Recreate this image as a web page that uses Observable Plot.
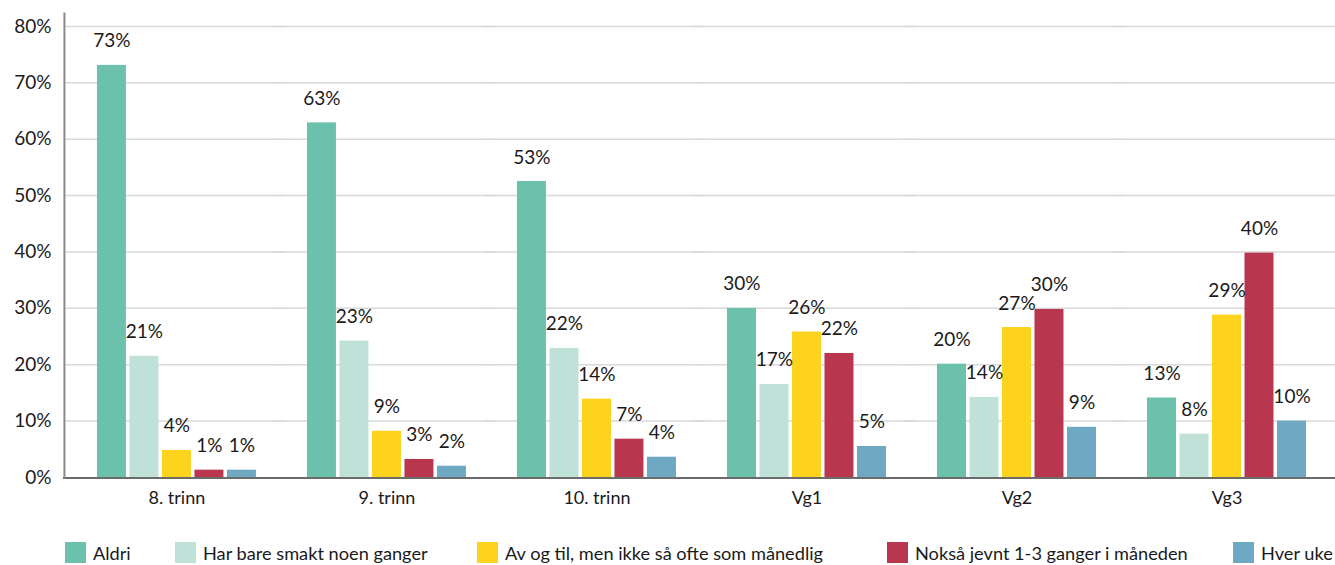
<!DOCTYPE html>
<html><head><meta charset="utf-8">
<script src="https://cdn.jsdelivr.net/npm/d3@7"></script>
<script src="https://cdn.jsdelivr.net/npm/@observablehq/plot@0.6"></script>
<style>
body{margin:0;background:#fff;font-family:Lato,sans-serif;color:#1a1a1a;}
#wrap{position:relative;width:1335px;height:565px;overflow:hidden;}
#legend{position:absolute;left:0;top:542px;width:1335px;height:21px;font-size:18.2px;}
.item{position:absolute;top:0;height:21px;display:flex;align-items:center;white-space:nowrap;}
.item:nth-child(1){left:65px;}
.item:nth-child(2){left:175px;}
.item:nth-child(3){left:477px;}
.item:nth-child(4){left:887px;}
.item:nth-child(5){left:1233px;}
.sw{width:21px;height:21px;margin-right:7px;}
</style></head><body>
<div id="wrap"><div id="chart"></div><div id="legend"></div></div>
<script>
const groups = ["8. trinn", "9. trinn", "10. trinn", "Vg1", "Vg2", "Vg3"];
const series = ["Aldri", "Har bare smakt noen ganger", "Av og til, men ikke så ofte som månedlig", "Nokså jevnt 1-3 ganger i måneden", "Hver uke"];
const colors = ["#6cc1ad", "#c0e1d8", "#fdd31e", "#b8364e", "#6ea8c2"];

// bar heights (%) per series, one per group
const aldri    = [73.1, 62.9, 52.5, 30.0, 20.1, 14.1];
const harBare  = [21.5, 24.2, 22.9, 16.5, 14.2, 7.7];
const avOgTil  = [4.8, 8.2, 13.9, 25.8, 26.6, 28.8];
const noksa    = [1.3, 3.2, 6.8, 22.0, 29.8, 39.8];
const hverUke  = [1.3, 2.0, 3.6, 5.5, 8.9, 10.0];

// printed labels (%) per series
const aldriLbl   = [73, 63, 53, 30, 20, 13];
const harBareLbl = [21, 23, 22, 17, 14, 8];
const avOgTilLbl = [4, 9, 14, 26, 27, 29];
const noksaLbl   = [1, 3, 7, 22, 30, 40];
const hverUkeLbl = [1, 2, 4, 5, 9, 10];

const yTicks = [0, 10, 20, 30, 40, 50, 60, 70, 80];

const values = [aldri, harBare, avOgTil, noksa, hverUke];
const labels = [aldriLbl, harBareLbl, avOgTilLbl, noksaLbl, hverUkeLbl];
const data = [];
groups.forEach((g, i) => series.forEach((s, j) => data.push({group: g, series: s, value: values[j][i], label: labels[j][i]})));

const chart = Plot.plot({
  width: 1335, height: 530,
  marginLeft: 64, marginRight: 0, marginTop: 13, marginBottom: 53,
  style: {fontFamily: "Lato, sans-serif", fontSize: "18px", color: "#1a1a1a", background: "white"},
  fx: {domain: groups, label: null, paddingInner: 0, paddingOuter: 0.026, align: 0.68, round: false},
  x: {domain: series, axis: null, paddingInner: 0.108, paddingOuter: 0.785, round: false},
  y: {domain: [0, 82.3], label: null},
  color: {domain: series, range: colors},
  marks: [
    Plot.ruleY(yTicks.slice(1), {stroke: "#d9d9d9", strokeWidth: 1.5, insetLeft: -8, insetRight: -4}),
    Plot.axisY({ticks: yTicks, tickFormat: d => d + "%", tickSize: 0, tickPadding: 20.5, label: null, fontSize: 19}),
    Plot.axisFx({anchor: "bottom", label: null, tickSize: 0, tickPadding: 14, fontSize: 18}),
    Plot.barY(data, {fx: "group", x: "series", y: "value", fill: "series"}),
    Plot.text(data, {fx: "group", x: "series", y: "value", text: d => d.label + "%", lineAnchor: "bottom", dy: -18, fontSize: 19, fill: "#1a1a1a"}),
    Plot.ruleY([0], {stroke: "#6b6b6b", strokeWidth: 2, insetLeft: -8, insetRight: -4, shapeRendering: "crispEdges"}),
    Plot.frame({anchor: "left", fx: () => groups[0], stroke: "#8a8a8a", strokeWidth: 2, insetLeft: -7.5})
  ]
});
document.getElementById("chart").append(chart);

const legend = d3.select("#legend");
series.forEach((s, j) => {
  const it = legend.append("div").attr("class", "item");
  it.append("div").attr("class", "sw").style("background", colors[j]);
  it.append("span").text(s);
});
</script>
</body></html>
